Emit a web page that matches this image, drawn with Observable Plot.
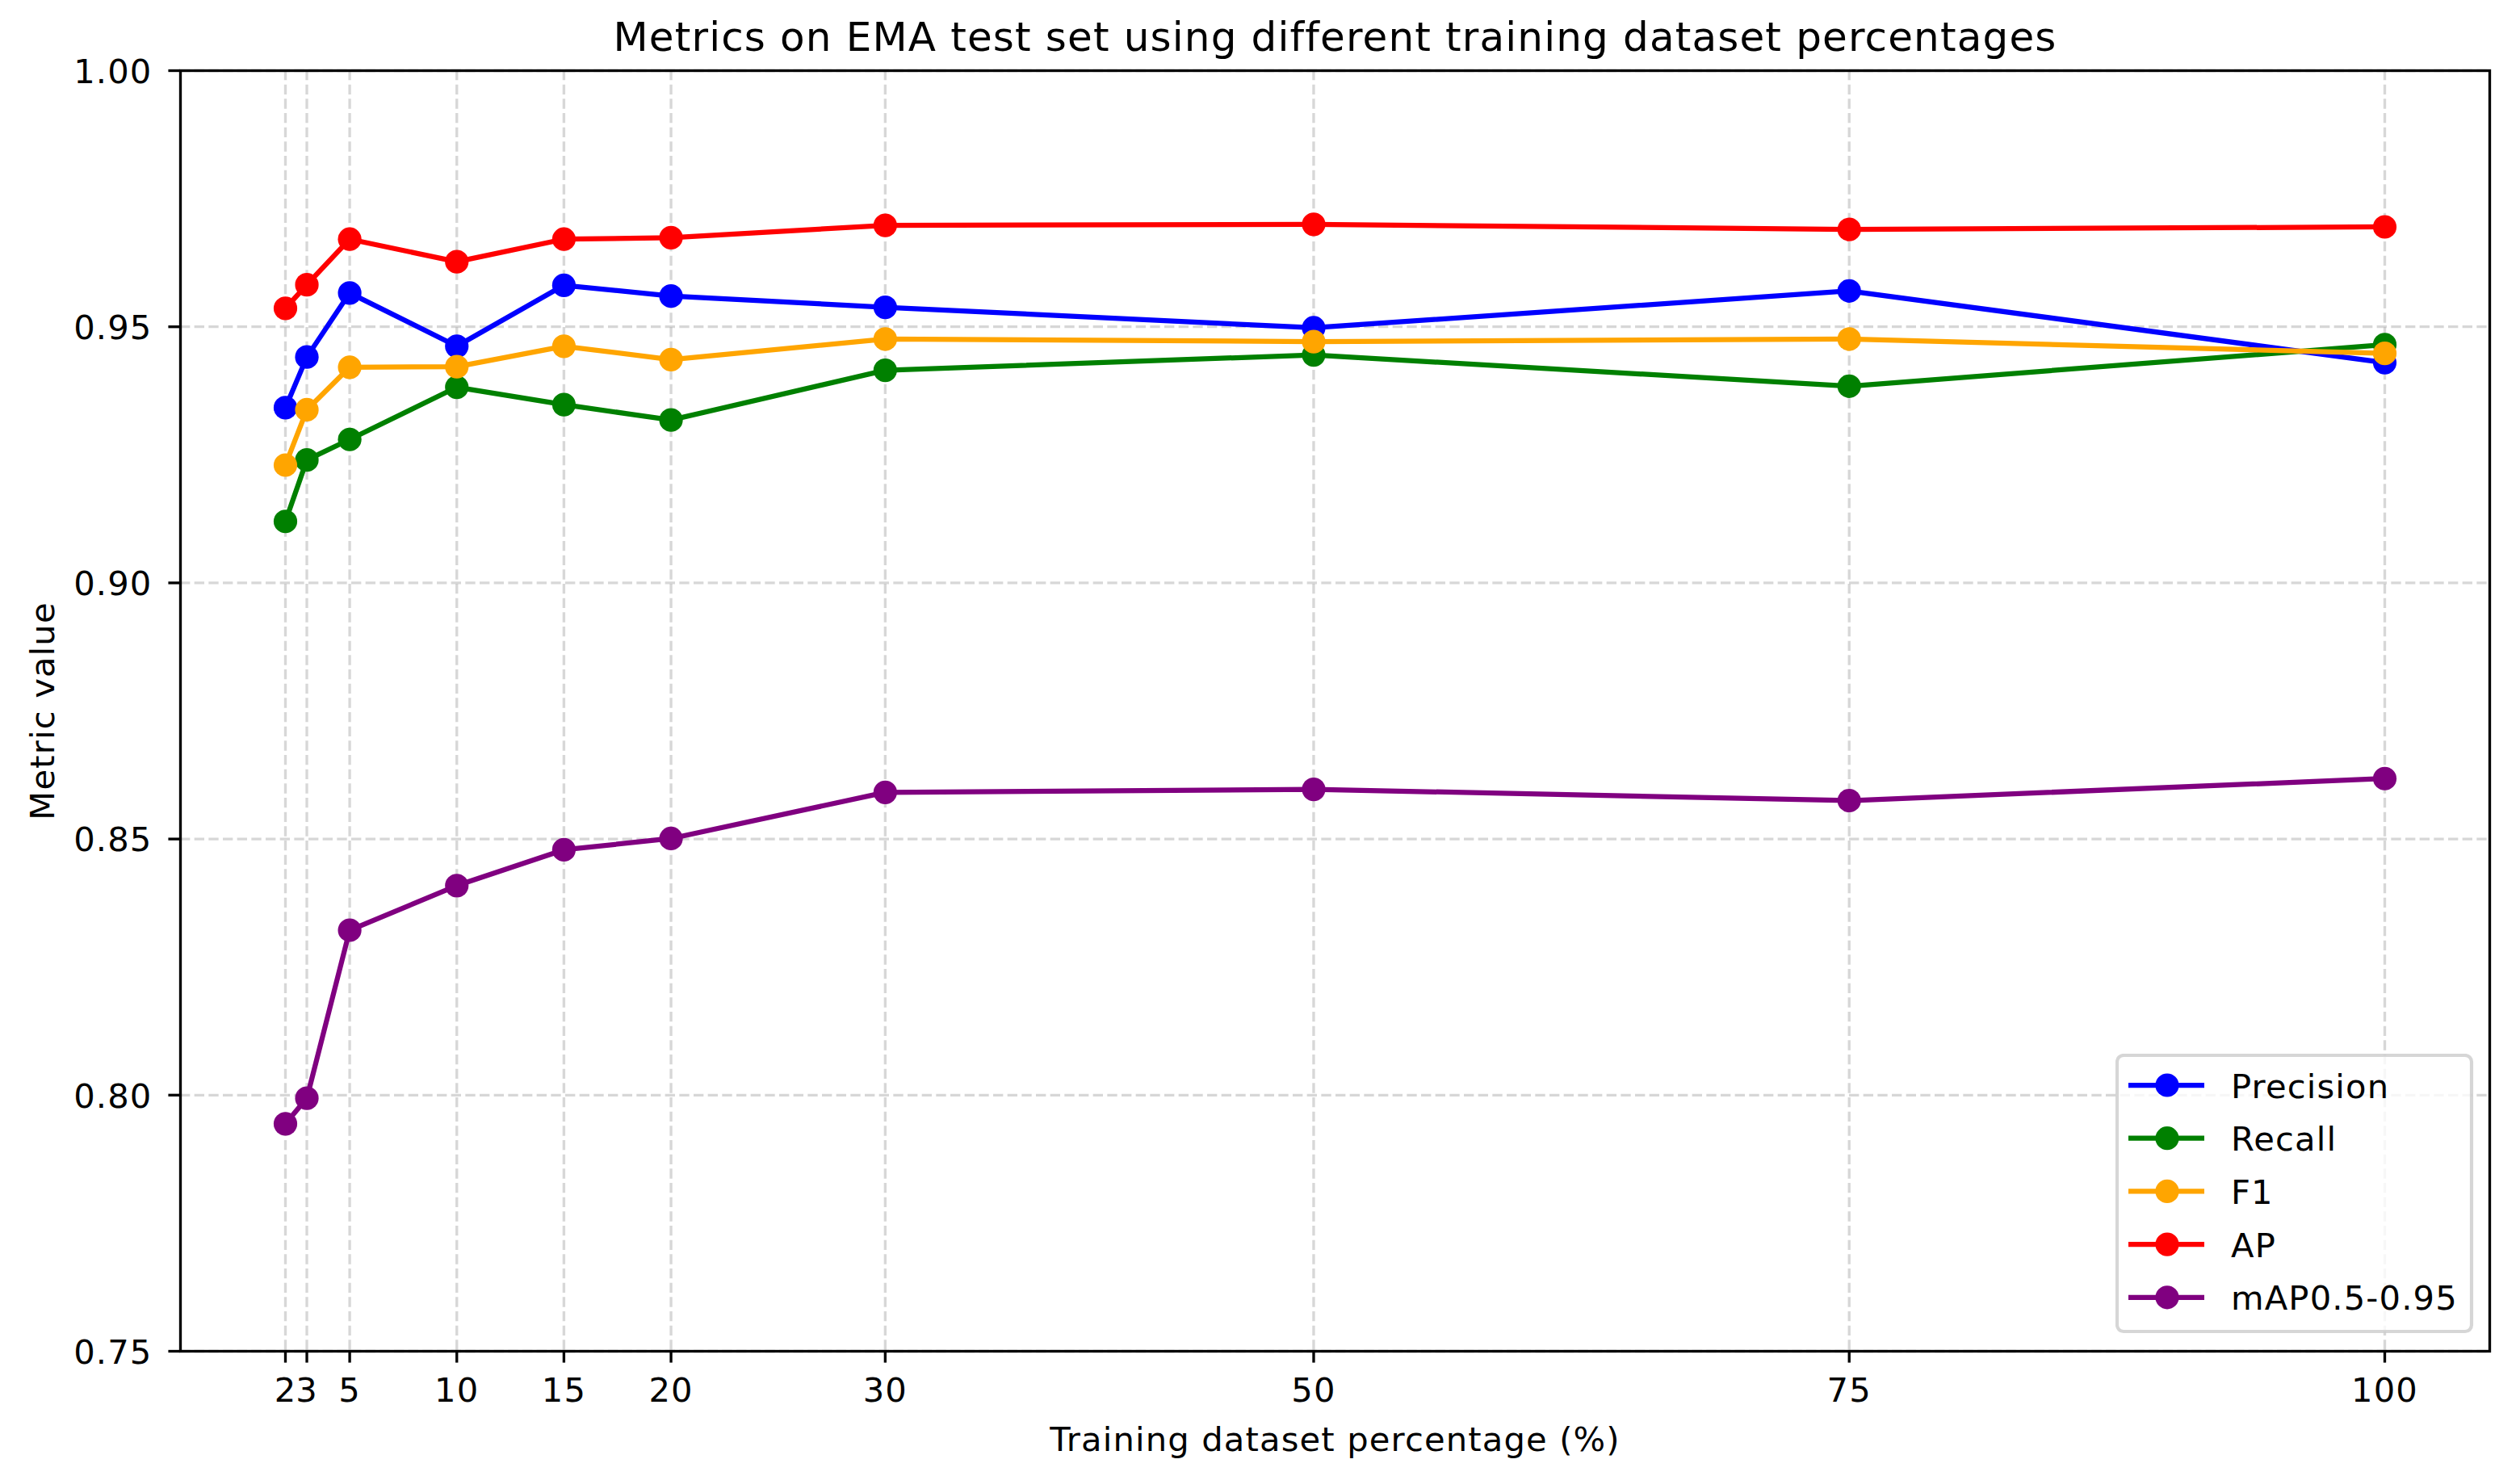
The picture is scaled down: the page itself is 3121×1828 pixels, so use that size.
<!DOCTYPE html>
<html>
<head>
<meta charset="utf-8">
<script src="https://cdn.jsdelivr.net/npm/d3@7"></script>
<script src="https://cdn.jsdelivr.net/npm/@observablehq/plot@0.6"></script>
<style>
  html, body { margin: 0; padding: 0; background: #fff; }
  #wrap { position: relative; width: 3121px; height: 1828px; overflow: hidden; }
  #wrap svg { display: block; }
  #wrap text { letter-spacing: 1.15px; }
  #legend { position: absolute; left: 2620px; top: 1305px; }
</style>
</head>
<body>
<div id="wrap"></div>
<script>
// ---------- data ----------
const percentages = [2, 3, 5, 10, 15, 20, 30, 50, 75, 100];
const precision = [0.9342, 0.9441, 0.9566, 0.9462, 0.9581, 0.9560, 0.9538, 0.9498, 0.9570, 0.9430];
const recall    = [0.9120, 0.9240, 0.9280, 0.9382, 0.9348, 0.9318, 0.9415, 0.9445, 0.9384, 0.9465];
const f1        = [0.9230, 0.9338, 0.9421, 0.9422, 0.9462, 0.9436, 0.9476, 0.9471, 0.9476, 0.9448];
const ap        = [0.9536, 0.9582, 0.9671, 0.9627, 0.9671, 0.9674, 0.9698, 0.9700, 0.9690, 0.9695];
const mapRange  = [0.7944, 0.7994, 0.8322, 0.8409, 0.8479, 0.8501, 0.8591, 0.8597, 0.8575, 0.8618];
const metricNames  = ["Precision", "Recall", "F1", "AP", "mAP0.5-0.95"];
const metricColors = ["blue", "green", "orange", "red", "purple"];
const yTicks = [0.75, 0.80, 0.85, 0.90, 0.95, 1.00];
const titleText = "Metrics on EMA test set using different training dataset percentages";
const xLabelText = "Training dataset percentage (%)";
const yLabelText = "Metric value";

const seriesValues = [precision, recall, f1, ap, mapRange];
const rows = metricNames.flatMap((name, i) =>
  percentages.map((p, j) => ({metric: name, pct: p, value: seriesValues[i][j]})));

// ---------- styling (matplotlib @ 300 dpi) ----------
const S = 300 / 72;
const FS = 10 * S;
const gridStyle = {
  stroke: "#b0b0b0", strokeOpacity: 0.5, strokeWidth: 0.8 * S,
  strokeDasharray: `${3.7 * 0.8 * S},${1.6 * 0.8 * S}`
};

const seriesMarks = metricNames.flatMap(name => {
  const d = rows.filter(r => r.metric === name);
  return [
    Plot.line(d, {x: "pct", y: "value", stroke: "metric", strokeWidth: 1.5 * S}),
    Plot.dot(d, {x: "pct", y: "value", fill: "metric", r: 14.6, stroke: null})
  ];
});

const chart = Plot.plot({
  width: 3121,
  height: 1828,
  marginLeft: 223,
  marginRight: 38,
  marginTop: 87,
  marginBottom: 155,
  style: {fontFamily: "'DejaVu Sans'", fontSize: `${FS}px`, background: "white", color: "black", overflow: "visible"},
  x: {domain: [-2.9, 104.9]},
  y: {domain: [0.75, 1.0]},
  color: {domain: metricNames, range: metricColors},
  marks: [
    Plot.gridX(percentages, gridStyle),
    Plot.gridY(yTicks, gridStyle),
    ...seriesMarks,
    Plot.frame({stroke: "black", strokeWidth: 0.8 * S}),
    Plot.axisX(percentages, {tickSize: 3.5 * S, text: null, strokeWidth: 0.8 * S, label: null}),
    Plot.axisX(percentages, {tickSize: 0, tickPadding: 33, fontSize: FS, label: null, tickFormat: d => String(d)}),
    Plot.axisY(yTicks, {tickSize: 3.5 * S, text: null, strokeWidth: 0.8 * S, label: null}),
    Plot.axisY(yTicks, {tickSize: 0, tickPadding: 35, dy: 2, fontSize: FS, label: null, tickFormat: d3.format(".2f")}),
    Plot.text([titleText], {text: d => d, frameAnchor: "top", textAnchor: "middle", lineAnchor: "bottom", dy: -25, fontSize: 12 * S}),
    Plot.text([xLabelText], {text: d => d, frameAnchor: "bottom", textAnchor: "middle", lineAnchor: "bottom", dy: 123, fontSize: FS}),
    Plot.text([yLabelText], {text: d => d, frameAnchor: "left", textAnchor: "middle", lineAnchor: "bottom", rotate: -90, dx: -157, fontSize: FS})
  ]
});
document.getElementById("wrap").appendChild(chart);

// ---------- legend overlay ----------
const L = d3.select("#wrap").append("svg")
  .attr("id", "legend")
  .attr("width", 446).attr("height", 350)
  .style("font-family", "'DejaVu Sans'");
L.append("rect")
  .attr("x", 2).attr("y", 2).attr("width", 439).attr("height", 342)
  .attr("rx", 8).attr("ry", 8)
  .attr("fill", "white").attr("fill-opacity", 0.8)
  .attr("stroke", "#cccccc").attr("stroke-opacity", 0.8).attr("stroke-width", 1 * S);
const rowG = L.selectAll("g.row").data(metricNames).join("g")
  .attr("class", "row")
  .attr("transform", (d, i) => `translate(0, ${39 + i * 65.7})`);
rowG.append("line")
  .attr("x1", 16).attr("x2", 110).attr("y1", 0).attr("y2", 0)
  .attr("stroke", (d, i) => metricColors[i]).attr("stroke-width", 1.5 * S);
rowG.append("circle")
  .attr("cx", 64).attr("cy", 0).attr("r", 14.6)
  .attr("fill", (d, i) => metricColors[i]);
rowG.append("text")
  .attr("x", 143).attr("y", 0).attr("dy", 15.5)
  .attr("font-size", FS).attr("fill", "black")
  .text(d => d);
</script>
</body>
</html>
